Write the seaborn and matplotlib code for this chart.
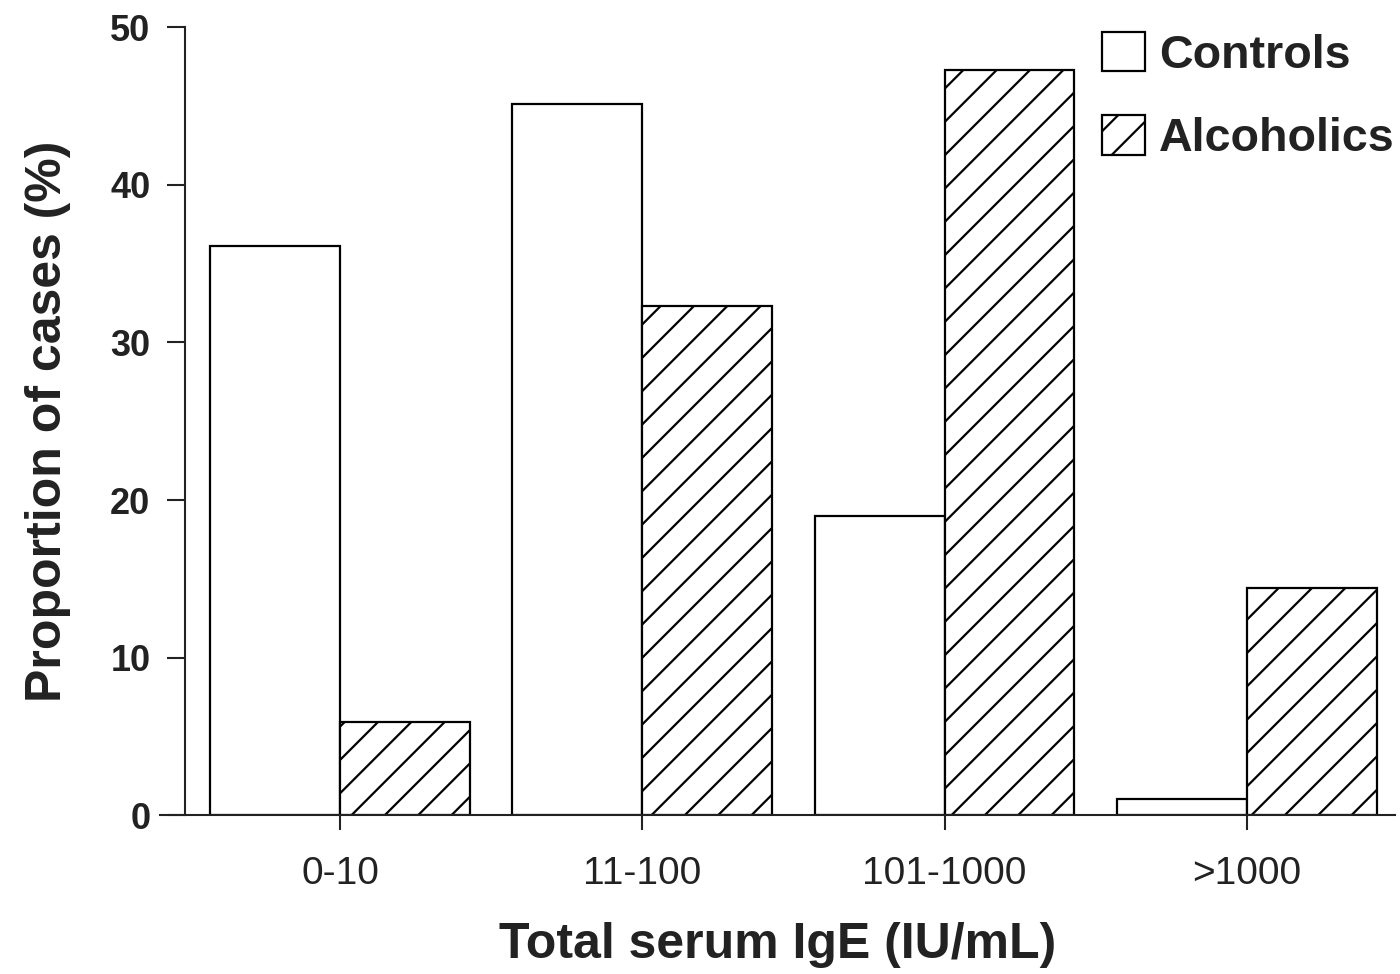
import pandas as pd
import matplotlib
matplotlib.use("Agg")
import matplotlib.pyplot as plt
from matplotlib.patches import Patch
import seaborn as sns

# values
categories = ["0-10", "11-100", "101-1000", ">1000"]
controls = [36.1, 45.1, 19.0, 1.0]
alcoholics = [5.9, 32.3, 47.3, 14.4]
y_ticks = [0, 10, 20, 30, 40, 50]

df = pd.DataFrame({
    "IgE": categories * 2,
    "pct": controls + alcoholics,
    "group": ["Controls"] * 4 + ["Alcoholics"] * 4,
})

sns.set_style("ticks")
plt.rcParams["font.family"] = ["Liberation Sans", "DejaVu Sans"]
plt.rcParams["hatch.linewidth"] = 0.8
plt.rcParams["hatch.color"] = "black"

fig = plt.figure(figsize=(7, 4.87), dpi=200)
ax = fig.add_axes([0.1143, 0.163, 0.882, 0.809])

sns.barplot(data=df, x="IgE", y="pct", hue="group",
            palette={"Controls": "white", "Alcoholics": "white"},
            edgecolor="black", linewidth=0.8, width=0.86, saturation=1,
            legend=False, ax=ax)

# hatch the alcoholics bars
for bar in ax.containers[1]:
    bar.set_hatch("//")

ax.set_xlim(-0.596, 3.49)
ax.set_ylim(0, 50)
ax.set_yticks(y_ticks)
ax.set_xticks(range(len(categories)))
ax.set_xticklabels(categories)

ax.spines["top"].set_visible(False)
ax.spines["right"].set_visible(False)
ax.spines["left"].set_position(("data", -0.513))
for s in ["left", "bottom"]:
    ax.spines[s].set_linewidth(0.75)
    ax.spines[s].set_color("#222222")

ax.tick_params(axis="y", direction="out", length=6.5, width=0.75, pad=6,
               labelsize=13, colors="#222222")
ax.tick_params(axis="x", direction="out", length=5.5, width=0.75, pad=9,
               labelsize=14, colors="#222222")
for lab in ax.get_yticklabels():
    lab.set_fontweight("bold")

ax.set_xlabel("Total serum IgE (IU/mL)", fontsize=18, fontweight="bold",
              labelpad=11, color="#222222")
ax.set_ylabel("Proportion of cases (%)", fontsize=18, fontweight="bold",
              labelpad=14, color="#222222")

handles = [
    Patch(facecolor="white", edgecolor="black", linewidth=0.8, label="Controls"),
    Patch(facecolor="white", edgecolor="black", linewidth=0.8, hatch="//", label="Alcoholics"),
]
leg = fig.legend(handles=handles, loc="upper left", bbox_to_anchor=(0.787, 0.967),
                 frameon=False, borderpad=0, borderaxespad=0,
                 handlelength=0.92, handleheight=0.92, handletextpad=0.3,
                 labelspacing=0.8, prop={"size": 16.8, "weight": "bold"})
for t in leg.get_texts():
    t.set_color("#222222")

fig.savefig("out.png", dpi=200)
